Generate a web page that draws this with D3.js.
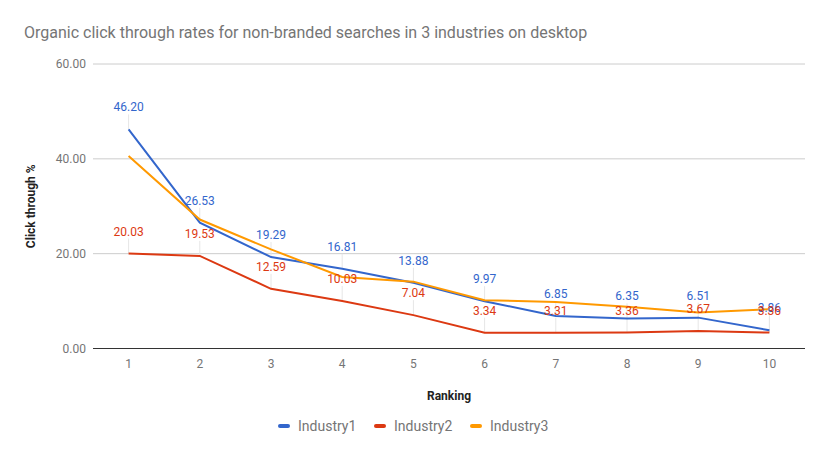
<html>
<script src='https://d3js.org/d3.v7.min.js'></script>
<style>
body {margin: 0; background: white;}
text {font-family: Roboto, Arial, sans-serif;}
</style>
<body>
<svg width=828 height=458></svg>
<script>
// chart data
var rankings = ["1", "2", "3", "4", "5", "6", "7", "8", "9", "10"];
var industry1 = [46.20, 26.53, 19.29, 16.81, 13.88, 9.97, 6.85, 6.35, 6.51, 3.86];
var industry2 = [20.03, 19.53, 12.59, 10.03, 7.04, 3.34, 3.31, 3.36, 3.67, 3.36];
var industry3 = [40.6, 27.2, 20.9, 15.1, 14.1, 10.2, 9.8, 8.8, 7.6, 8.3];
var seriesNames = ["Industry1", "Industry2", "Industry3"];
var yTicks = [0, 20, 40, 60];

var colors = ["#3366cc", "#dc3912", "#ff9900"];
var series = [industry1, industry2, industry3];
var labelled = [true, true, false];

var plotLeft = 93, plotRight = 805, plotTop = 64, plotBottom = 348.5;

var svg = d3.select("svg");

var x = d3.scaleBand().domain(rankings).range([plotLeft, plotRight]);
var y = d3.scaleLinear().domain([0, 60]).range([plotBottom, plotTop]);

// title
svg.append("text")
    .attr("x", 24).attr("y", 38)
    .style("font-size", "16px")
    .style("fill", "#757575")
    .text("Organic click through rates for non-branded searches in 3 industries on desktop");

// gridlines
svg.append("g").selectAll("line")
    .data(yTicks.filter(function(d) {return d > 0;}))
    .enter().append("line")
    .attr("x1", plotLeft).attr("x2", plotRight)
    .attr("y1", function(d) {return y(d);})
    .attr("y2", function(d) {return y(d);})
    .style("stroke", "#cccccc");

// y axis labels
var yAxis = svg.append("g")
    .attr("transform", "translate(" + plotLeft + ",0)")
    .call(d3.axisLeft(y).tickValues(yTicks).tickFormat(d3.format(".2f")).tickSize(0).tickPadding(7));
yAxis.select(".domain").remove();
yAxis.selectAll("text").style("font-size", "12px").style("fill", "#757575").attr("font-family", null);

// x axis
var xAxis = svg.append("g")
    .attr("transform", "translate(0," + plotBottom + ")")
    .call(d3.axisBottom(x).tickSize(0).tickPadding(11));
xAxis.select(".domain").remove();
xAxis.selectAll("text").style("font-size", "12px").style("fill", "#757575").attr("font-family", null);

// axis titles
svg.append("text")
    .attr("transform", "translate(35," + ((plotTop + plotBottom) / 2) + ") rotate(-90)")
    .style("text-anchor", "middle")
    .style("font-size", "12px").style("font-weight", "bold").style("fill", "#222")
    .text("Click through %");

svg.append("text")
    .attr("x", (plotLeft + plotRight) / 2).attr("y", 400)
    .style("text-anchor", "middle")
    .style("font-size", "12px").style("font-weight", "bold").style("fill", "#222")
    .text("Ranking");

// leader lines for labels
series.forEach(function(vals, s) {
    if (!labelled[s]) return;
    svg.append("g").selectAll("line")
        .data(vals)
        .enter().append("line")
        .attr("x1", function(d, i) {return x(rankings[i]) + x.bandwidth() / 2;})
        .attr("x2", function(d, i) {return x(rankings[i]) + x.bandwidth() / 2;})
        .attr("y1", function(d) {return y(d) - 15;})
        .attr("y2", function(d) {return y(d);})
        .style("stroke", "#e6e6e6");
});

// lines
var line = d3.line()
    .x(function(d, i) {return x(rankings[i]) + x.bandwidth() / 2;})
    .y(function(d) {return y(d);});

series.forEach(function(vals, s) {
    svg.append("path")
        .datum(vals)
        .attr("d", line)
        .style("fill", "none")
        .style("stroke", colors[s])
        .style("stroke-width", 2);
});

// baseline
svg.append("line")
    .attr("x1", plotLeft).attr("x2", plotRight)
    .attr("y1", y(0)).attr("y2", y(0))
    .style("stroke", "#333");

// data labels
series.forEach(function(vals, s) {
    if (!labelled[s]) return;
    svg.append("g").selectAll("text")
        .data(vals)
        .enter().append("text")
        .attr("x", function(d, i) {return x(rankings[i]) + x.bandwidth() / 2;})
        .attr("y", function(d) {return y(d) - 18;})
        .style("text-anchor", "middle")
        .style("font-size", "12px")
        .style("fill", colors[s])
        .text(function(d) {return d.toFixed(2);});
});

// legend
var legendX = [278, 374, 470];
var legend = svg.append("g").selectAll("g")
    .data(seriesNames)
    .enter().append("g")
    .attr("transform", function(d, i) {return "translate(" + legendX[i] + ",426)";});
legend.append("line")
    .attr("x1", 2).attr("x2", 10)
    .style("stroke", function(d, i) {return colors[i];})
    .style("stroke-width", 4)
    .style("stroke-linecap", "round");
legend.append("text")
    .attr("x", 20).attr("dy", "0.35em")
    .style("font-size", "14px")
    .style("fill", "#757575")
    .text(function(d) {return d;});
</script>
</body>
</html>
